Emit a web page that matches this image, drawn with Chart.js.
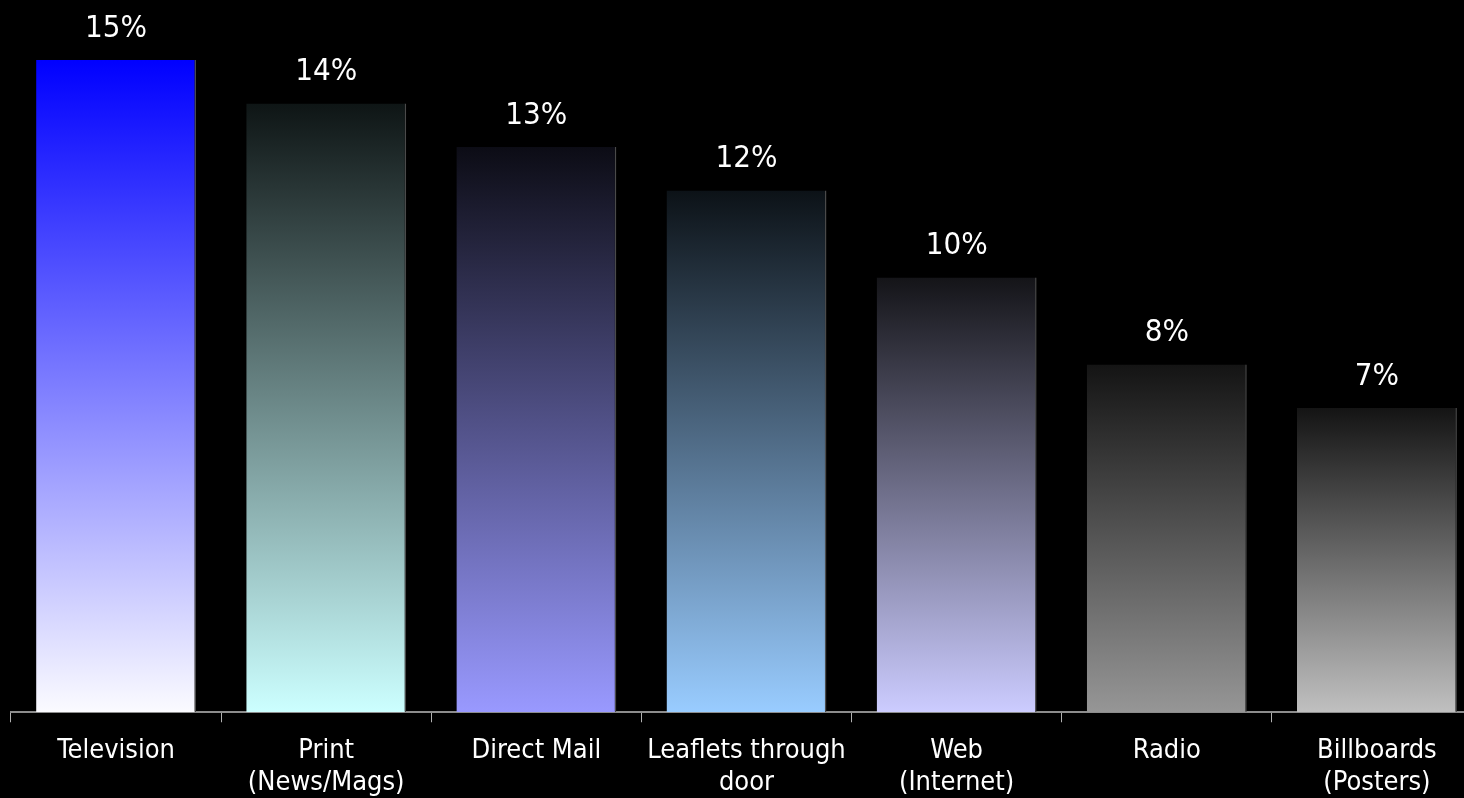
<!DOCTYPE html>
<html>
<head>
<meta charset="utf-8">
<script src="https://cdn.jsdelivr.net/npm/chart.js@4/dist/chart.umd.min.js"></script>
<style>
  html, body { margin: 0; padding: 0; background: #000; overflow: hidden; width: 1464px; height: 798px; }
  canvas { display: block; }
</style>
</head>
<body>
<canvas id="c" width="1490" height="812"></canvas>
<script>
const categories = [
  "Television",
  ["Print", "(News/Mags)"],
  "Direct Mail",
  ["Leaflets through", "door"],
  ["Web", "(Internet)"],
  "Radio",
  ["Billboards", "(Posters)"]
];
const values = [15, 14, 13, 12, 10, 8, 7];
const valueLabels = ["15%", "14%", "13%", "12%", "10%", "8%", "7%"];

const topColors = ["#0000ff", "#0e1515", "#0c0c15", "#0c1217", "#141418", "#141414", "#141414"];
const bottomColors = ["#fbfbff", "#ccffff", "#9999ff", "#99ccff", "#ccccff", "#969696", "#c0c0c0"];

const FONT = "'DejaVu Sans Condensed', 'Liberation Sans Narrow', sans-serif";

function barGradient(ctx) {
  const chart = ctx.chart;
  const i = ctx.dataIndex;
  if (!chart.chartArea || !chart.scales.y) return bottomColors[i];
  const ys = chart.scales.y;
  const top = ys.getPixelForValue(values[i]);
  const bottom = ys.getPixelForValue(0);
  const g = chart.ctx.createLinearGradient(0, top, 0, bottom);
  g.addColorStop(0, topColors[i]);
  g.addColorStop(1, bottomColors[i]);
  return g;
}

const valueLabelPlugin = {
  id: 'valueLabels',
  afterDatasetsDraw(chart) {
    const ctx = chart.ctx;
    const meta = chart.getDatasetMeta(0);
    ctx.save();
    ctx.fillStyle = '#ffffff';
    ctx.font = '31px ' + FONT;
    ctx.textAlign = 'center';
    ctx.textBaseline = 'alphabetic';
    meta.data.forEach((bar, i) => {
      ctx.fillText(valueLabels[i], bar.x, bar.y - 23);
    });
    ctx.restore();
  }
};

new Chart(document.getElementById('c'), {
  type: 'bar',
  data: {
    labels: categories,
    datasets: [{
      data: values,
      backgroundColor: barGradient,
      borderColor: '#4a4a4a',
      borderWidth: { top: 0, left: 0, bottom: 0, right: 1.5 },
      borderSkipped: false,
      categoryPercentage: 1,
      barPercentage: 0.761
    }]
  },
  options: {
    responsive: false,
    animation: false,
    devicePixelRatio: 1,
    layout: { padding: { left: 11, right: 8, top: 0, bottom: 0 } },
    plugins: {
      legend: { display: false },
      tooltip: { enabled: false }
    },
    scales: {
      y: {
        display: false,
        min: 0,
        max: 16.38
      },
      x: {
        offset: true,
        grid: {
          display: true,
          offset: true,
          drawOnChartArea: false,
          drawTicks: true,
          tickLength: 10,
          color: '#b0b0b0',
          lineWidth: 1
        },
        border: { display: true, color: '#8c8c8c', width: 2 },
        ticks: {
          color: '#ffffff',
          padding: 13,
          autoSkip: false,
          maxRotation: 0,
          minRotation: 0,
          font: { family: FONT, size: 27, lineHeight: 1.18 }
        }
      }
    }
  },
  plugins: [valueLabelPlugin]
});
</script>
</body>
</html>
